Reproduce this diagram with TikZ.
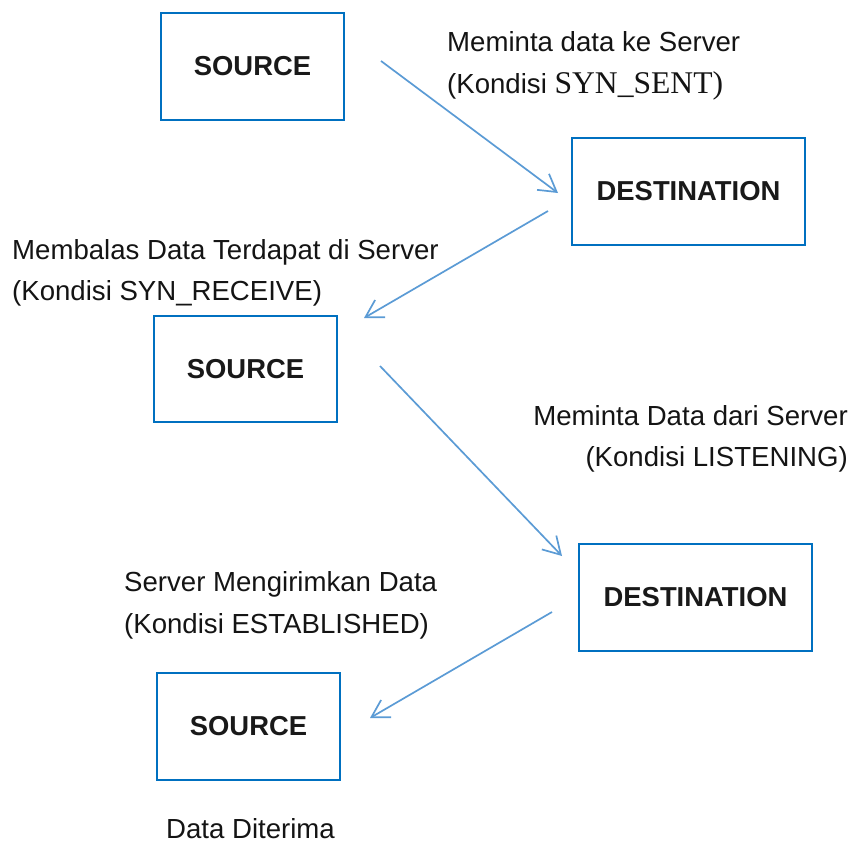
\documentclass[tikz,border=0pt]{standalone}
\usepackage{fontspec}
\setmainfont{Liberation Sans}
\newfontfamily\serifpart{Liberation Serif}
\usetikzlibrary{arrows.meta}
\definecolor{boxblue}{HTML}{0070C0}
\definecolor{arrowblue}{HTML}{5B9BD5}
\tikzset{
  box/.style={draw=boxblue, line width=2.6pt, inner sep=0pt, font=\fontsize{27.4}{32}\selectfont\bfseries, text=black!90},
  lab/.style={inner sep=0pt, font=\fontsize{27.6}{32}\selectfont, text=black!92},
  conn/.style={draw=arrowblue, line width=1.7pt, -{Straight Barb[length=17pt,width=20pt,line width=1.7pt]}}
}
\begin{document}
\begin{tikzpicture}[x=1pt,y=-1pt]
\useasboundingbox (0,0) rectangle (854,843);
% boxes
\node[box, minimum width=183pt, minimum height=107pt] (s1) at (252.5,66.5) {SOURCE};
\node[box, minimum width=233pt, minimum height=107pt] (d1) at (688.5,191.5) {DESTINATION};
\node[box, minimum width=183pt, minimum height=106pt] (s2) at (245.5,369) {SOURCE};
\node[box, minimum width=233pt, minimum height=107pt] (d2) at (695.5,597.5) {DESTINATION};
\node[box, minimum width=183pt, minimum height=107pt] (s3) at (248.5,726.5) {SOURCE};
% connector end points
\coordinate (a1s) at (381,61);  \coordinate (a1e) at (558,193);
\coordinate (a2s) at (548,211); \coordinate (a2e) at (364,318);
\coordinate (a3s) at (380,366); \coordinate (a3e) at (562,556);
\coordinate (a4s) at (552,612); \coordinate (a4e) at (370,718);
\draw[conn] (a1s) -- (a1e);
\draw[conn] (a2s) -- (a2e);
\draw[conn] (a3s) -- (a3e);
\draw[conn] (a4s) -- (a4e);
% labels
\node[lab, anchor=base west] (t1a) at (447,52) {Meminta data ke Server};
\node[lab, anchor=base west] (t1b) at (447,93) {(Kondisi {\serifpart\fontsize{31.6}{34}\selectfont SYN\_SENT)}};
\node[lab, anchor=base west] (t2a) at (12,259) {Membalas Data Terdapat di Server};
\node[lab, anchor=base west] (t2b) at (12,300) {(Kondisi SYN\_RECEIVE)};
\node[lab, anchor=base east] (t3a) at (848,425) {Meminta Data dari Server};
\node[lab, anchor=base east] (t3b) at (848,466) {(Kondisi LISTENING)};
\node[lab, anchor=base west] (t4a) at (124,591) {Server Mengirimkan Data};
\node[lab, anchor=base west] (t4b) at (124,633) {(Kondisi ESTABLISHED)};
\node[lab, anchor=base] (t5) at (250.5,838) {Data Diterima};
\end{tikzpicture}
\end{document}
